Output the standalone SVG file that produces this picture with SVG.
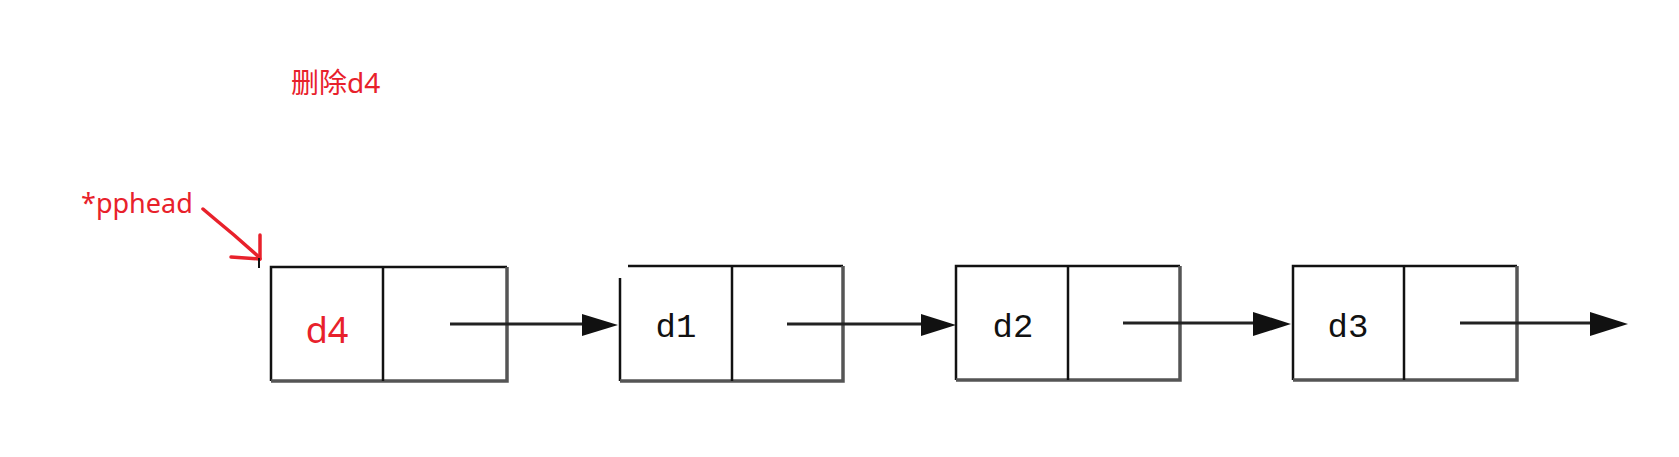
<svg xmlns="http://www.w3.org/2000/svg" width="1679" height="457" viewBox="0 0 1679 457">
<style>
.top{stroke:#111;stroke-width:2.5;fill:none}
.shadow{stroke:#555;stroke-width:3.5;fill:none}
.div{stroke:#111;stroke-width:2.5}
.lbl{font-family:"Liberation Mono",monospace;font-size:34px;fill:#111;text-anchor:middle}
.red{fill:#e8212b;font-family:"Noto Sans","Noto Sans CJK SC",sans-serif}
.link{stroke:#222;stroke-width:3;fill:none}
.redline{stroke:#e8212b;stroke-width:3.5;fill:none;stroke-linecap:round}
</style>
<rect width="1679" height="457" fill="#fff"/>
<text class="red" x="291" y="93" font-size="28">删除d4</text>
<text class="red" x="81" y="213" font-size="27">*pphead</text>
<g id="pointer">
<path class="redline" d="M203,209 L216,220 L234,235 L259,257"/>
<path class="redline" d="M260,235 L260,259"/>
<path class="redline" d="M231,257 L260,259"/>
<path d="M259,258 L259,268" stroke="#111" stroke-width="2"/>
</g>
<g id="node-d4">
<path class="top" d="M271,381 L271,267 L507,267"/>
<path class="shadow" d="M271,381 L507,381 L507,267"/>
<line class="div" x1="383" y1="267" x2="383" y2="381"/>
<text class="red" x="327" y="343" font-size="36" text-anchor="middle">d4</text>
</g>
<g id="node-d1">
<path class="top" d="M620,381 L620,278 M628,266 L843,266"/>
<path class="shadow" d="M620,381 L843,381 L843,266"/>
<line class="div" x1="732" y1="266" x2="732" y2="381"/>
<text class="lbl" x="676" y="337">d1</text>
</g>
<g id="node-d2">
<path class="top" d="M956,380 L956,266 L1180,266"/>
<path class="shadow" d="M956,380 L1180,380 L1180,266"/>
<line class="div" x1="1068" y1="266" x2="1068" y2="380"/>
<text class="lbl" x="1013" y="337">d2</text>
</g>
<g id="node-d3">
<path class="top" d="M1293,380 L1293,266 L1517,266"/>
<path class="shadow" d="M1293,380 L1517,380 L1517,266"/>
<line class="div" x1="1404" y1="266" x2="1404" y2="380"/>
<text class="lbl" x="1348" y="337">d3</text>
</g>
<g id="connectors">
<path d="M450,324 L583,324" class="link"/>
<path d="M582,314 L618,325 L582,336 Z" fill="#111"/>
<path d="M787,324 L922,324" class="link"/>
<path d="M921,314 L956,325 L921,336 Z" fill="#111"/>
<path d="M1123,323 L1255,323" class="link"/>
<path d="M1253,312 L1291,324 L1253,336 Z" fill="#111"/>
<path d="M1460,323 L1592,323" class="link"/>
<path d="M1590,312 L1628,324 L1590,336 Z" fill="#111"/>
</g>
</svg>
